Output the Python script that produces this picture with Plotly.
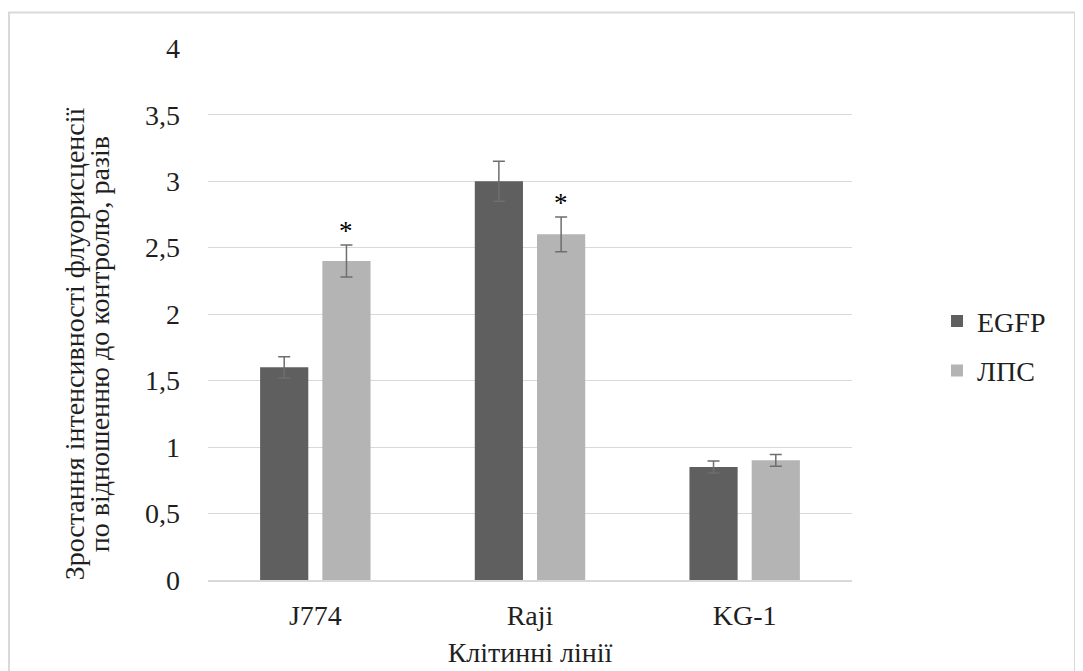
import plotly.graph_objects as go

categories = ["J774", "Raji", "KG-1"]
egfp_values = [1.6, 3.0, 0.85]
egfp_errors = [0.08, 0.15, 0.045]
lps_values = [2.4, 2.6, 0.9]
lps_errors = [0.12, 0.13, 0.045]
significant_lps = [True, True, False]
y_ticks = [0, 0.5, 1, 1.5, 2, 2.5, 3, 3.5, 4]
y_title_lines = ["Зростання інтенсивності флуорисценсії", "по відношенню до контролю, разів"]

FONT = "Liberation Serif, Times New Roman, serif"
TXT = "#1f1f1f"
ERR_COLOR = "#6e6e6e"
FS = 28

fig = go.Figure()
fig.add_trace(go.Bar(
    name="EGFP", x=categories, y=egfp_values, legendgroup="a",
    marker=dict(color="#5f5f5f", line=dict(width=0)),
    error_y=dict(type="data", array=egfp_errors, color=ERR_COLOR, thickness=1.5, width=6),
))
fig.add_trace(go.Bar(
    name="ЛПС", x=categories, y=lps_values, legendgroup="b",
    marker=dict(color="#b4b4b4", line=dict(width=0)),
    error_y=dict(type="data", array=lps_errors, color=ERR_COLOR, thickness=1.5, width=6),
))

# significance asterisks above LPS error bars
for c, v, e, s in zip(categories, lps_values, lps_errors, significant_lps):
    if s:
        fig.add_annotation(
            x=c, y=v + e, xref="x", yref="y", text="*", showarrow=False,
            xshift=31, yshift=14, font=dict(family=FONT, size=27, color="#000000"),
        )

# two-line rotated y-axis title
for xp, line in zip([-0.208, -0.168], y_title_lines):
    fig.add_annotation(
        x=xp, y=0.443, xref="paper", yref="paper", text=line, showarrow=False,
        textangle=-90, xanchor="center", yanchor="middle",
        font=dict(family=FONT, size=FS, color=TXT),
    )

fig.update_layout(
    width=1083, height=671,
    paper_bgcolor="white", plot_bgcolor="white",
    margin=dict(l=200, r=239, t=40, b=99),
    barmode="group", bargap=0.42, bargroupgap=0.226,
    separators=", ",
    font=dict(family=FONT, size=FS, color=TXT),
    showlegend=True,
    legend=dict(
        x=1.132, y=0.44, xanchor="left", yanchor="middle",
        font=dict(family=FONT, size=FS, color=TXT),
        itemwidth=30, tracegroupgap=10, bgcolor="rgba(0,0,0,0)",
    ),
    xaxis=dict(
        showgrid=False, showline=True, linecolor="#d9d9d9", linewidth=1.5,
        tickfont=dict(family=FONT, size=FS, color=TXT),
        ticks="", ticklabelstandoff=10,
        title=dict(text="Клітинні лінії", font=dict(family=FONT, size=FS, color=TXT), standoff=12),
    ),
    yaxis=dict(
        range=[0, 4.002], tickvals=y_ticks, showgrid=True, gridcolor="#d9d9d9", gridwidth=1.3,
        zeroline=False, showline=False,
        tickfont=dict(family=FONT, size=FS, color=TXT),
        ticklabelstandoff=27,
    ),
)

# outer chart border
fig.add_shape(
    type="rect", xref="paper", yref="paper",
    x0=(1 - 200) / 644, x1=(1067 - 200) / 644,
    y0=(572 - 690) / 532, y1=(572 - 4.5) / 532,
    line=dict(color="#d9d9d9", width=2), fillcolor="rgba(0,0,0,0)", layer="below",
)

fig.write_html("out.html")
